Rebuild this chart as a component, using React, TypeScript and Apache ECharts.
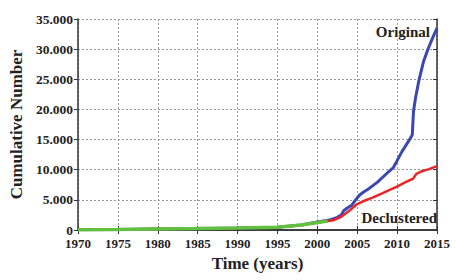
import React, { useEffect, useRef } from "react";
import * as echarts from "echarts";

const xTicks = [1970, 1975, 1980, 1985, 1990, 1995, 2000, 2005, 2010, 2015];
const yTicks = [0, 5000, 10000, 15000, 20000, 25000, 30000, 35000];

const origYears = [1970, 1975, 1980, 1985, 1990, 1995, 1998, 2000, 2001.5, 2002.5, 2003, 2003.3, 2003.8, 2004.3, 2004.8, 2005.3, 2005.8, 2006.5, 2007.5, 2008.8, 2009.5, 2010, 2010.6, 2011.4, 2011.9, 2012.05, 2012.3, 2012.7, 2013.3, 2013.9, 2014.4, 2015];
const origValues = [50, 80, 150, 220, 320, 470, 850, 1350, 1650, 2100, 2500, 3200, 3700, 4100, 5000, 5800, 6300, 6900, 7900, 9500, 10300, 11500, 13000, 14650, 15760, 19600, 21850, 24600, 27900, 30100, 31700, 33500];

const declYears = [1970, 1975, 1980, 1985, 1990, 1995, 1998, 2000, 2002, 2003, 2004, 2005, 2006, 2007, 2008, 2009, 2010, 2011, 2012, 2012.4, 2013, 2014, 2015];
const declValues = [50, 80, 150, 220, 320, 450, 800, 1250, 1600, 2200, 3200, 4300, 4900, 5400, 6000, 6600, 7200, 7900, 8500, 9300, 9700, 10100, 10600];

const earlyYears = [1970, 1975, 1980, 1985, 1990, 1995, 1998, 2000, 2001.3];
const earlyValues = [60, 90, 160, 230, 330, 460, 820, 1250, 1500];

const seriesNames = ["Original", "Declustered"];

const zip = (xs: number[], ys: number[]) => xs.map((x, i) => [x, ys[i]]);

const FONT = "'Liberation Serif', 'Times New Roman', serif";

export default function App() {
  const ref = useRef<HTMLDivElement>(null);
  useEffect(() => {
    if (!ref.current) return;
    const chart = echarts.init(ref.current, undefined, { renderer: "svg" });
    const axisLine = { show: true, lineStyle: { color: "#333", width: 1.5 } };
    const split = { show: true, lineStyle: { color: "#999", type: [2, 2] as any, width: 1 } };
    chart.setOption({
      animation: false,
      backgroundColor: "#fff",
      grid: { left: 73, right: 19, top: 19, bottom: 50 },
      xAxis: [
        {
          type: "value",
          min: xTicks[0],
          max: xTicks[xTicks.length - 1],
          interval: 5,
          position: "bottom",
          axisLine,
          axisTick: { show: true, inside: true, length: 4, lineStyle: { color: "#333" } },
          axisLabel: {
            color: "#222",
            fontFamily: FONT,
            fontWeight: "bold",
            fontSize: 13,
            margin: 7,
            formatter: (v: number) => String(v),
          },
          splitLine: split,
          name: "Time (years)",
          nameLocation: "middle",
          nameGap: 24,
          nameTextStyle: { color: "#222", fontFamily: FONT, fontWeight: "bold", fontSize: 17, verticalAlign: "top" },
        },
        {
          type: "value",
          min: xTicks[0],
          max: xTicks[xTicks.length - 1],
          interval: 5,
          position: "top",
          axisLine,
          axisTick: { show: true, inside: true, length: 4, lineStyle: { color: "#333" } },
          axisLabel: { show: false },
          splitLine: { show: false },
        },
      ],
      yAxis: [
        {
          type: "value",
          min: yTicks[0],
          max: yTicks[yTicks.length - 1],
          interval: 5000,
          position: "left",
          axisLine,
          axisTick: { show: true, inside: false, length: 4, lineStyle: { color: "#333" } },
          axisLabel: {
            color: "#222",
            fontFamily: FONT,
            fontWeight: "bold",
            fontSize: 13.5,
            margin: 5,
            formatter: (v: number) => (v === 0 ? "0" : `${v / 1000}.000`),
          },
          splitLine: split,
          name: "Cumulative Number",
          nameLocation: "middle",
          nameGap: 47,
          nameTextStyle: { color: "#222", fontFamily: FONT, fontWeight: "bold", fontSize: 17 },
        },
        {
          type: "value",
          min: yTicks[0],
          max: yTicks[yTicks.length - 1],
          interval: 5000,
          position: "right",
          axisLine,
          axisTick: { show: true, inside: true, length: 4, lineStyle: { color: "#333" } },
          axisLabel: { show: false },
          splitLine: { show: false },
        },
      ],
      series: [
        {
          name: seriesNames[0],
          type: "line",
          data: zip(origYears, origValues),
          showSymbol: false,
          lineStyle: { color: "#3b48b0", width: 3 },
          z: 2,
        },
        {
          name: seriesNames[1],
          type: "line",
          data: zip(declYears, declValues),
          showSymbol: false,
          lineStyle: { color: "#e8262a", width: 2.5 },
          z: 3,
        },
        {
          type: "line",
          data: zip(earlyYears, earlyValues),
          showSymbol: false,
          lineStyle: { color: "#62c040", width: 3.5 },
          z: 4,
        },
      ],
      graphic: [
        {
          type: "text",
          right: 26,
          top: 24,
          style: { text: seriesNames[0], fill: "#222", font: `bold 15px ${FONT}` },
        },
        {
          type: "text",
          right: 19,
          top: 210,
          style: { text: seriesNames[1], fill: "#222", font: `bold 15px ${FONT}` },
        },
      ],
    });
    return () => chart.dispose();
  }, []);
  return <div ref={ref} style={{ position: "fixed", left: 0, top: 0, width: 456, height: 280 }} />;
}
